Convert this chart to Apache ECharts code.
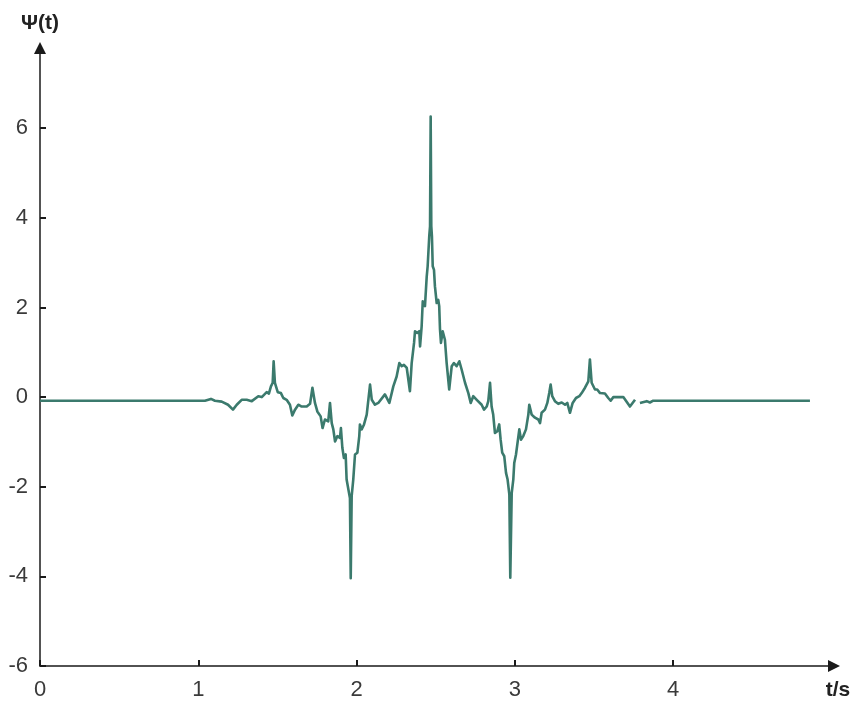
<!DOCTYPE html>
<html>
<head>
<meta charset="utf-8">
<script src="https://cdn.jsdelivr.net/npm/echarts@6/dist/echarts.min.js"></script>
<style>
  html, body { margin: 0; padding: 0; background: #fff; }
  #chart { width: 860px; height: 705px; }
</style>
</head>
<body>
<div id="chart"></div>
<script>
// 时间 t (s)
const tValues = [
  0, 1.042, 1.080, 1.105, 1.148, 1.188, 1.219, 1.243, 1.274, 1.306, 1.338, 1.348,
  1.379, 1.401, 1.411, 1.432, 1.446, 1.459, 1.470, 1.476, 1.484, 1.502, 1.522, 1.537,
  1.558, 1.579, 1.594, 1.611, 1.632, 1.653, 1.685, 1.706, 1.721, 1.737, 1.752, 1.773,
  1.785, 1.800, 1.821, 1.832, 1.843, 1.853, 1.864, 1.879, 1.895, 1.901, 1.910, 1.920,
  1.931, 1.937, 1.948, 1.958, 1.963, 1.969, 1.979, 1.990, 2.005, 2.017, 2.021, 2.032,
  2.047, 2.064, 2.074, 2.085, 2.096, 2.116, 2.137, 2.148, 2.179, 2.207, 2.232, 2.253,
  2.270, 2.285, 2.299, 2.317, 2.337, 2.348, 2.363, 2.369, 2.383, 2.396, 2.401, 2.411,
  2.418, 2.428, 2.432, 2.443, 2.449, 2.455, 2.459, 2.464, 2.468, 2.472, 2.476, 2.481,
  2.489, 2.495, 2.506, 2.516, 2.522, 2.527, 2.533, 2.544, 2.558, 2.569, 2.585, 2.601,
  2.615, 2.632, 2.649, 2.664, 2.685, 2.706, 2.721, 2.737, 2.759, 2.769, 2.790, 2.805,
  2.822, 2.832, 2.843, 2.853, 2.863, 2.874, 2.889, 2.901, 2.910, 2.920, 2.933, 2.944,
  2.954, 2.965, 2.971, 2.980, 2.990, 2.996, 3.007, 3.018, 3.028, 3.039, 3.053, 3.070,
  3.085, 3.091, 3.106, 3.127, 3.148, 3.159, 3.169, 3.190, 3.205, 3.217, 3.226, 3.236,
  3.253, 3.274, 3.296, 3.317, 3.331, 3.348, 3.365, 3.386, 3.407, 3.422, 3.443, 3.464,
  3.474, 3.485, 3.506, 3.520, 3.538, 3.569, 3.590, 3.605, 3.622, 3.685, 3.727, 3.759,
  3.775, 3.790, 3.833, 3.853, 3.874, 4.864
];
// 小波函数 Ψ(t)
const psiValues = [
  -0.08, -0.08, -0.04, -0.08, -0.10, -0.17, -0.28, -0.17, -0.06, -0.06, -0.09, -0.13,
  0.02, 0.00, -0.02, 0.11, 0.08, 0.24, 0.32, 0.80, 0.32, 0.11, 0.09, -0.02,
  -0.06, -0.17, -0.41, -0.28, -0.17, -0.21, -0.21, -0.15, 0.21, -0.13, -0.32, -0.43,
  -0.69, -0.50, -0.54, -0.13, -0.58, -0.72, -0.99, -0.87, -0.91, -0.69, -1.13, -1.36,
  -1.28, -1.84, -1.84, -2.25, -4.04, -2.21, -1.84, -1.28, -1.24, -0.87, -0.61, -0.72,
  -0.61, -0.39, -0.35, 0.28, -0.06, -0.17, -0.13, -0.17, 0.06, -0.13, 0.24, 0.46,
  0.76, 0.69, 0.72, 0.65, 0.13, 0.76, 1.21, 1.47, 1.43, 1.47, 1.13, 1.58,
  2.14, 2.17, 2.03, 2.69, 2.92, 2.92, 3.59, 3.81, 6.26, 3.81, 3.59, 2.92,
  2.84, 2.47, 2.10, 2.17, 2.03, 1.51, 1.21, 1.47, 1.28, 0.76, 0.17, 0.69,
  0.76, 0.69, 0.80, 0.61, 0.32, 0.09, -0.13, 0.02, -0.06, -0.09, -0.17, -0.28,
  -0.21, -0.09, 0.32, -0.21, -0.39, -0.80, -0.76, -0.61, -0.95, -1.24, -1.32, -1.69,
  -1.84, -2.17, -4.03, -2.14, -1.84, -1.47, -1.28, -1.32, -0.72, -0.95, -0.87, -0.72,
  -0.39, -0.17, -0.39, -0.46, -0.50, -0.58, -0.35, -0.28, -0.13, 0.09, 0.28, 0.02,
  -0.09, -0.15, -0.12, -0.17, -0.13, -0.35, -0.13, -0.02, 0.02, 0.09, 0.21, 0.35,
  0.84, 0.32, 0.17, 0.17, 0.09, 0.08, -0.02, -0.08, 0.00, 0.00, -0.21, -0.06,
  null, -0.13, -0.09, -0.12, -0.08, -0.08
];
// 刻度
const xTicks = [0, 1, 2, 3, 4];
const yTicks = [-6, -4, -2, 0, 2, 4, 6];

const seriesData = tValues.map((t, i) => [t, psiValues[i] === null ? '-' : psiValues[i]]);

const chart = echarts.init(document.getElementById('chart'), null, { renderer: 'canvas' });

const axisColor = '#1a1a1a';
const labelStyle = {
  color: '#3a3a3a',
  fontSize: 22,
  fontFamily: 'Liberation Sans, Arial, sans-serif'
};
const nameStyle = {
  fontSize: 21,
  fontWeight: 'bold',
  color: '#222',
  fontFamily: 'Liberation Sans, Arial, sans-serif'
};

chart.setOption({
  animation: false,
  backgroundColor: '#fff',
  grid: { left: 40, right: 26, top: 48, bottom: 39 },
  xAxis: {
    type: 'value',
    min: 0,
    max: 5.016,
    name: 't/s',
    nameLocation: 'end',
    nameGap: 4,
    nameTextStyle: Object.assign({
      align: 'center',
      verticalAlign: 'top',
      padding: [14, 0, 0, 0]
    }, nameStyle),
    axisLine: {
      onZero: false,
      symbol: ['none', 'triangle'],
      symbolSize: [12, 12],
      lineStyle: { color: axisColor, width: 1.5 }
    },
    axisTick: {
      inside: true,
      length: 6,
      customValues: xTicks,
      lineStyle: { color: axisColor, width: 2 }
    },
    axisLabel: Object.assign({ margin: 13, customValues: xTicks }, labelStyle),
    splitLine: { show: false }
  },
  yAxis: {
    type: 'value',
    min: -6,
    max: 7.79,
    name: 'Ψ(t)',
    nameLocation: 'end',
    nameGap: 14,
    nameTextStyle: nameStyle,
    axisLine: {
      onZero: false,
      symbol: ['none', 'triangle'],
      symbolSize: [12, 12],
      lineStyle: { color: axisColor, width: 1.5 }
    },
    axisTick: {
      inside: true,
      length: 6,
      customValues: yTicks,
      lineStyle: { color: axisColor, width: 2 }
    },
    axisLabel: Object.assign({ margin: 12, customValues: yTicks }, labelStyle),
    splitLine: { show: false }
  },
  series: [{
    type: 'line',
    data: seriesData,
    showSymbol: false,
    connectNulls: false,
    lineStyle: { color: '#3b7a6d', width: 2.6, join: 'round' },
    itemStyle: { color: '#3b7a6d' }
  }]
});
</script>
</body>
</html>
